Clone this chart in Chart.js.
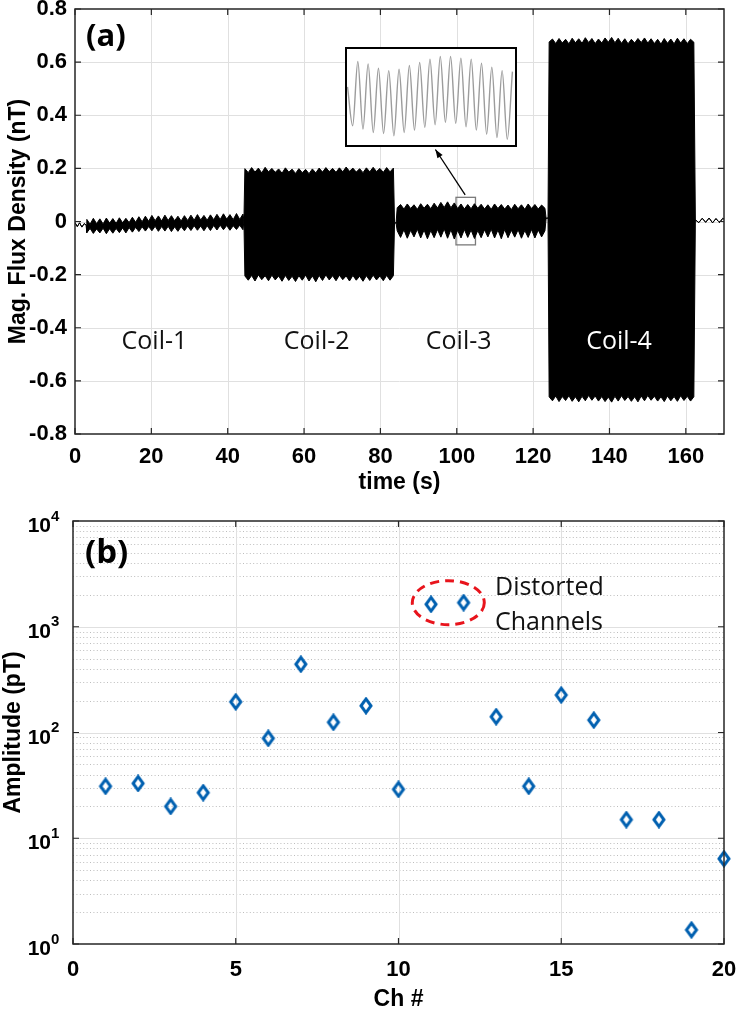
<!DOCTYPE html>
<html>
<head>
<meta charset="utf-8">
<script src="https://cdn.jsdelivr.net/npm/chart.js@4.4.1/dist/chart.umd.min.js"></script>
<style>
  body { margin: 0; background: #fff; }
  #wrap { position: relative; width: 737px; height: 1009px; overflow: hidden; }
  #chartA { position: absolute; left: 0; top: 0; }
  #chartB { position: absolute; left: 0; top: 500px; }
  #insetBox { position: absolute; left: 345px; top: 47px; width: 172px; height: 100px;
              border: 2px solid #000; box-sizing: border-box; background: #fff; }
  #inset { position: absolute; left: 0; top: 0; }
</style>
</head>
<body>
<div id="wrap">
  <canvas id="chartA" width="737" height="500"></canvas>
  <canvas id="chartB" width="737" height="509"></canvas>
  <div id="insetBox"><canvas id="inset" width="168" height="96"></canvas></div>
</div>
<script>
// ---- panel (a): signal envelope ----
const xTicksA = [0, 20, 40, 60, 80, 100, 120, 140, 160];
const yTicksA = [-0.8, -0.6, -0.4, -0.2, 0, 0.2, 0.4, 0.6, 0.8];
const coilNames = ['Coil-1', 'Coil-2', 'Coil-3', 'Coil-4'];
const coilStart = [3.1, 44.5, 84.4, 124.2];
const coilEnd = [44.0, 83.4, 123.1, 162.1];

const baseBefore = [[0, -0.004], [0.6, -0.019], [1.2, -0.005], [1.8, -0.021], [2.4, -0.008], [2.9, -0.013]];
const gap12 = [[44.25, 0.004]];
const gap23 = [[83.7, -0.004], [84.1, -0.006]];
const gap34 = [[123.4, 0.012], [123.9, 0.013]];
const baseAfter = [[162.5, 0.006], [163.4, -0.004], [164.3, 0.012], [165.2, -0.003], [166.1, 0.013],
  [167.0, -0.005], [167.9, 0.011], [168.8, -0.004], [169.7, 0.012], [170, 0.009]];

const coil1Top = [0.008, -0.010, 0.012, -0.008, 0.010, -0.009, 0.013, -0.006, 0.011, -0.007, 0.014, -0.005,
  0.012, -0.004, 0.016, -0.003, 0.018, -0.001, 0.020, 0.001, 0.023, 0.003, 0.021, 0.002, 0.024, 0.004,
  0.022, 0.003, 0.020, 0.002, 0.022, 0.004, 0.024, 0.005, 0.026, 0.006, 0.023, 0.005, 0.025, 0.007,
  0.027, 0.008, 0.029, 0.009, 0.026, 0.007, 0.030, 0.008, 0.028];
const coil1Bot = [-0.042, -0.026, -0.045, -0.028, -0.043, -0.025, -0.046, -0.027, -0.044, -0.026, -0.042, -0.024,
  -0.043, -0.023, -0.040, -0.022, -0.038, -0.020, -0.036, -0.019, -0.035, -0.018, -0.037, -0.019, -0.036, -0.018,
  -0.038, -0.020, -0.037, -0.019, -0.035, -0.017, -0.034, -0.016, -0.033, -0.017, -0.035, -0.016, -0.034, -0.015,
  -0.032, -0.014, -0.031, -0.015, -0.033, -0.016, -0.030, -0.014, -0.031];
const coil2Top = [0.199, 0.184, 0.203, 0.186, 0.201, 0.183, 0.204, 0.187, 0.200, 0.185, 0.198, 0.182, 0.202,
  0.186, 0.197, 0.181, 0.199, 0.184, 0.196, 0.180, 0.198, 0.183, 0.201, 0.186, 0.203, 0.188, 0.200, 0.185,
  0.202, 0.187, 0.205, 0.189, 0.201, 0.186, 0.199, 0.184, 0.202, 0.187, 0.204, 0.188, 0.200, 0.185, 0.203,
  0.187, 0.201];
const coil2Bot = [-0.205, -0.221, -0.203, -0.224, -0.201, -0.219, -0.204, -0.223, -0.202, -0.220, -0.205, -0.225,
  -0.203, -0.222, -0.206, -0.226, -0.204, -0.221, -0.202, -0.224, -0.205, -0.227, -0.203, -0.222, -0.201, -0.220,
  -0.204, -0.223, -0.202, -0.219, -0.205, -0.224, -0.203, -0.221, -0.206, -0.225, -0.204, -0.222, -0.202, -0.220,
  -0.205, -0.223, -0.203, -0.221, -0.204];
const coil3Top = [0.052, 0.064, 0.047, 0.066, 0.049, 0.063, 0.046, 0.067, 0.050, 0.065, 0.048, 0.069, 0.051,
  0.072, 0.053, 0.074, 0.052, 0.070, 0.049, 0.066, 0.047, 0.064, 0.048, 0.067, 0.050, 0.065, 0.047, 0.063,
  0.046, 0.066, 0.049, 0.064, 0.047, 0.062, 0.045, 0.065, 0.048, 0.063, 0.046, 0.066, 0.049, 0.064, 0.047,
  0.062, 0.050];
const coil3Bot = [-0.035, -0.060, -0.031, -0.063, -0.033, -0.058, -0.029, -0.062, -0.032, -0.065, -0.034, -0.061,
  -0.030, -0.059, -0.028, -0.063, -0.031, -0.066, -0.033, -0.062, -0.030, -0.060, -0.032, -0.064, -0.034, -0.061,
  -0.031, -0.058, -0.029, -0.062, -0.032, -0.065, -0.030, -0.061, -0.033, -0.059, -0.031, -0.063, -0.034, -0.060,
  -0.030, -0.062, -0.032, -0.058, -0.035];
const coil4Top = [0.676, 0.687, 0.670, 0.689, 0.672, 0.686, 0.669, 0.690, 0.673, 0.688, 0.671, 0.692, 0.674,
  0.689, 0.670, 0.687, 0.672, 0.691, 0.675, 0.693, 0.673, 0.690, 0.671, 0.688, 0.669, 0.686, 0.672, 0.689,
  0.674, 0.691, 0.672, 0.688, 0.670, 0.686, 0.668, 0.689, 0.671, 0.687, 0.669, 0.690, 0.672, 0.688, 0.670,
  0.686, 0.675];
const coil4Bot = [-0.660, -0.675, -0.657, -0.678, -0.659, -0.674, -0.656, -0.677, -0.660, -0.679, -0.658, -0.675,
  -0.655, -0.673, -0.657, -0.676, -0.659, -0.678, -0.661, -0.680, -0.658, -0.676, -0.656, -0.674, -0.659, -0.677,
  -0.660, -0.679, -0.657, -0.675, -0.655, -0.673, -0.658, -0.676, -0.660, -0.678, -0.657, -0.675, -0.659, -0.677,
  -0.656, -0.674, -0.658, -0.676, -0.660];

// zoomed-in trace shown in the inset (alternating crests / troughs)
const insetWave = [0.30, -0.85, 1.05, -0.95, 0.98, -1.05, 0.85, -1.08, 0.78, -1.15, 0.82, -1.05, 0.93, -0.98,
  1.02, -0.90, 1.12, -0.82, 1.20, -0.75, 1.20, -0.78, 1.15, -0.88, 1.12, -0.98, 1.00, -1.10, 0.88, -1.20,
  0.78, -1.25, 0.75];

// ---- panel (b): amplitude per channel ----
const channels = [1, 2, 3, 4, 5, 6, 7, 8, 9, 10, 11, 12, 13, 14, 15, 16, 17, 18, 19, 20];
const amplitudes = [31, 33, 20, 27, 195, 88, 442, 125, 179, 29, 1630, 1690, 141, 31, 226, 131, 15, 15, 1.36, 6.4];
const xTicksB = [0, 5, 10, 15, 20];
const yTicksB = [1, 10, 100, 1000, 10000];

const TICK_FONT = "'Liberation Sans', Arial, sans-serif";
const TEXT_FONT = "'Open Sans', 'Noto Sans', sans-serif";
const GRID = '#e0e0e0';
const AXIS = '#262626';
const BLUE = 'rgb(0, 96, 176)';

const pairs = (arr) => arr.map(([x, y]) => ({ x, y }));
function envelope(start, end, vals) {
  const step = (end - start) / (vals.length - 1);
  return vals.map((v, i) => ({ x: start + i * step, y: v }));
}
const tops = [coil1Top, coil2Top, coil3Top, coil4Top];
const bots = [coil1Bot, coil2Bot, coil3Bot, coil4Bot];
const gaps = [gap12, gap23, gap34, baseAfter];
function trace(edges) {
  let out = pairs(baseBefore);
  edges.forEach((vals, i) => {
    out = out.concat(envelope(coilStart[i], coilEnd[i], vals), pairs(gaps[i]));
  });
  return out;
}
const upper = trace(tops);
const lower = trace(bots);

function fixedBox(w, h) {
  return (s) => {
    if (w != null) s.width = w;
    if (h != null) s.height = h;
    s.paddingTop = 0; s.paddingBottom = 0; s.paddingLeft = 0; s.paddingRight = 0;
  };
}

function drawFrame(ctx, a) {
  ctx.strokeStyle = AXIS;
  ctx.lineWidth = 1.5;
  ctx.strokeRect(a.left, a.top, a.right - a.left, a.bottom - a.top);
}

function arrow(ctx, x0, y0, x1, y1) {
  const ang = Math.atan2(y1 - y0, x1 - x0);
  ctx.beginPath(); ctx.moveTo(x0, y0); ctx.lineTo(x1, y1); ctx.stroke();
  ctx.beginPath();
  ctx.moveTo(x1, y1);
  ctx.lineTo(x1 - 9 * Math.cos(ang - 0.35), y1 - 9 * Math.sin(ang - 0.35));
  ctx.lineTo(x1 - 9 * Math.cos(ang + 0.35), y1 - 9 * Math.sin(ang + 0.35));
  ctx.closePath(); ctx.fill();
}

const frameA = {
  id: 'frameA',
  beforeDatasetsDraw(chart) {
    const { ctx, chartArea: a, scales: { x, y } } = chart;
    ctx.save();
    ctx.strokeStyle = GRID; ctx.lineWidth = 1;
    ctx.beginPath();
    xTicksA.forEach(t => {
      if (t <= 0) return;
      const px = Math.round(x.getPixelForValue(t)) + 0.5;
      ctx.moveTo(px, a.top); ctx.lineTo(px, a.bottom);
    });
    yTicksA.forEach(t => {
      if (Math.abs(t) > 0.75) return;
      const py = Math.round(y.getPixelForValue(t)) + 0.5;
      ctx.moveTo(a.left, py); ctx.lineTo(a.right, py);
    });
    ctx.stroke();
    // small zoom window on the Coil-3 trace
    const rx0 = x.getPixelForValue(99.8), rx1 = x.getPixelForValue(104.9);
    const ry0 = y.getPixelForValue(0.091), ry1 = y.getPixelForValue(-0.088);
    ctx.strokeStyle = '#7a7a7a'; ctx.lineWidth = 1.3;
    ctx.strokeRect(rx0, ry0, rx1 - rx0, ry1 - ry0);
    ctx.restore();
  },
  afterDatasetsDraw(chart) {
    const { ctx, chartArea: a, scales: { x, y } } = chart;
    ctx.save();
    drawFrame(ctx, a);
    ctx.beginPath();
    ctx.lineWidth = 1.2;
    xTicksA.forEach(t => {
      const px = x.getPixelForValue(t);
      ctx.moveTo(px, a.bottom); ctx.lineTo(px, a.bottom - 6);
      ctx.moveTo(px, a.top); ctx.lineTo(px, a.top + 6);
    });
    yTicksA.forEach(t => {
      const py = y.getPixelForValue(t);
      ctx.moveTo(a.left, py); ctx.lineTo(a.left + 6, py);
      ctx.moveTo(a.right, py); ctx.lineTo(a.right - 6, py);
    });
    ctx.stroke();

    // arrow from zoom window to inset
    ctx.strokeStyle = '#000'; ctx.fillStyle = '#000'; ctx.lineWidth = 1.3;
    arrow(ctx, x.getPixelForValue(102.2), y.getPixelForValue(0.100),
      x.getPixelForValue(94.4), y.getPixelForValue(0.271));

    // coil labels
    const coilMid = [20.8, 63.3, 100.5, 142.5];
    ctx.font = '25px ' + TEXT_FONT;
    ctx.textAlign = 'center'; ctx.textBaseline = 'alphabetic';
    coilNames.forEach((n, i) => {
      ctx.fillStyle = i === 3 ? '#fff' : '#111';
      ctx.fillText(n, x.getPixelForValue(coilMid[i]), y.getPixelForValue(-0.48));
    });

    // panel tag
    ctx.fillStyle = '#000';
    ctx.textAlign = 'left';
    ctx.font = 'bold 31px ' + TEXT_FONT;
    ctx.fillText('(a)', a.left + 11, a.top + 37);

    // axis titles
    ctx.font = 'bold 23px ' + TICK_FONT;
    ctx.textAlign = 'center';
    ctx.fillText('time (s)', (a.left + a.right) / 2, 489);
    ctx.translate(25, (a.top + a.bottom) / 2);
    ctx.rotate(-Math.PI / 2);
    ctx.fillText('Mag. Flux Density (nT)', 0, 0);
    ctx.restore();
  }
};

new Chart(document.getElementById('chartA'), {
  type: 'line',
  data: {
    datasets: [
      { data: upper, borderColor: '#000', borderWidth: 1, pointRadius: 0, tension: 0,
        fill: '+1', backgroundColor: '#000' },
      { data: lower, borderColor: '#000', borderWidth: 1, pointRadius: 0, tension: 0, fill: false }
    ]
  },
  options: {
    responsive: false,
    animation: false,
    events: [],
    layout: { padding: { top: 9, right: 13, bottom: 0, left: 0 } },
    plugins: { legend: { display: false }, tooltip: { enabled: false } },
    scales: {
      x: {
        type: 'linear', min: 0, max: 170,
        grid: { display: false, drawTicks: false }, border: { display: false },
        ticks: { stepSize: 20, includeBounds: false, maxRotation: 0, autoSkip: false, padding: 10,
          color: '#000', font: { family: TICK_FONT, size: 22, weight: 'bold' } },
        afterFit: fixedBox(null, 66)
      },
      y: {
        min: -0.8, max: 0.8,
        grid: { display: false, drawTicks: false }, border: { display: false },
        ticks: { stepSize: 0.2, padding: 8, color: '#000', autoSkip: false,
          font: { family: TICK_FONT, size: 22, weight: 'bold' },
          callback: v => Math.abs(v) < 1e-9 ? '0' : v.toFixed(1) },
        afterFit: fixedBox(75, null)
      }
    }
  },
  plugins: [frameA]
});

// inset: zoomed trace
new Chart(document.getElementById('inset'), {
  type: 'line',
  data: {
    datasets: [{
      data: insetWave.map((v, i) => ({ x: i, y: v })),
      borderColor: '#9c9c9c', borderWidth: 1.4, pointRadius: 0,
      cubicInterpolationMode: 'monotone', fill: false
    }]
  },
  options: {
    responsive: false, animation: false, events: [],
    layout: { padding: 0 },
    plugins: { legend: { display: false }, tooltip: { enabled: false } },
    scales: {
      x: { type: 'linear', display: false, min: -0.1, max: 32.5 },
      y: { display: false, min: -1.42, max: 1.42 }
    }
  }
});

// ---- panel (b) ----
const diamond = document.createElement('canvas');
diamond.width = 16; diamond.height = 18;
(() => {
  const dc = diamond.getContext('2d');
  dc.strokeStyle = BLUE; dc.lineWidth = 3; dc.lineJoin = 'miter';
  dc.beginPath();
  dc.moveTo(8, 2.2); dc.lineTo(13, 9); dc.lineTo(8, 15.8); dc.lineTo(3, 9);
  dc.closePath(); dc.stroke();
})();

const frameB = {
  id: 'frameB',
  beforeDatasetsDraw(chart) {
    const { ctx, chartArea: a, scales: { x, y } } = chart;
    ctx.save();
    // minor dotted grid
    ctx.strokeStyle = '#bdbdbd'; ctx.lineWidth = 1; ctx.setLineDash([1, 2.4]);
    ctx.beginPath();
    yTicksB.slice(0, -1).forEach(d => {
      for (let m = 2; m <= 9; m++) {
        const py = Math.round(y.getPixelForValue(d * m)) + 0.5;
        ctx.moveTo(a.left, py); ctx.lineTo(a.right, py);
      }
    });
    ctx.stroke();
    ctx.setLineDash([]);
    ctx.strokeStyle = GRID;
    ctx.beginPath();
    yTicksB.slice(1, -1).forEach(d => {
      const py = Math.round(y.getPixelForValue(d)) + 0.5;
      ctx.moveTo(a.left, py); ctx.lineTo(a.right, py);
    });
    xTicksB.slice(1, -1).forEach(t => {
      const px = Math.round(x.getPixelForValue(t)) + 0.5;
      ctx.moveTo(px, a.top); ctx.lineTo(px, a.bottom);
    });
    ctx.stroke();
    ctx.restore();
  },
  afterDatasetsDraw(chart) {
    const { ctx, chartArea: a, scales: { x, y } } = chart;
    ctx.save();
    drawFrame(ctx, a);
    ctx.beginPath();
    ctx.lineWidth = 1.2;
    xTicksB.forEach(t => {
      const px = x.getPixelForValue(t);
      ctx.moveTo(px, a.bottom); ctx.lineTo(px, a.bottom - 6);
      ctx.moveTo(px, a.top); ctx.lineTo(px, a.top + 6);
    });
    yTicksB.forEach(d => {
      const py = y.getPixelForValue(d);
      ctx.moveTo(a.left, py); ctx.lineTo(a.left + 6, py);
      ctx.moveTo(a.right, py); ctx.lineTo(a.right - 6, py);
    });
    ctx.stroke();

    // y tick labels 10^n
    ctx.fillStyle = '#000';
    yTicksB.forEach(d => {
      const py = y.getPixelForValue(d);
      ctx.font = 'bold 21px ' + TICK_FONT;
      ctx.textAlign = 'right'; ctx.textBaseline = 'alphabetic';
      ctx.fillText('10', 51, py + 11);
      ctx.font = 'bold 15px ' + TICK_FONT;
      ctx.textAlign = 'left';
      ctx.fillText(String(Math.round(Math.log10(d))), 51, py - 0.5);
    });

    // highlighted channels
    const cx = x.getPixelForValue(11.53), cy = y.getPixelForValue(1690);
    ctx.strokeStyle = '#e8141c'; ctx.lineWidth = 3; ctx.setLineDash([9, 6]);
    ctx.beginPath(); ctx.ellipse(cx, cy, 36, 22, 0, 0, Math.PI * 2); ctx.stroke();
    ctx.setLineDash([]);
    ctx.font = '25px ' + TEXT_FONT;
    ctx.fillStyle = '#111';
    ctx.fillText('Distorted', 495, 95);
    ctx.fillText('Channels', 495, 130);

    // panel tag
    ctx.fillStyle = '#000';
    ctx.font = 'bold 33px ' + TEXT_FONT;
    ctx.fillText('(b)', a.left + 12, 63);

    // axis titles
    ctx.font = 'bold 23px ' + TICK_FONT;
    ctx.textAlign = 'center';
    ctx.fillText('Ch #', (a.left + a.right) / 2, 506);
    ctx.translate(20, (a.top + a.bottom) / 2);
    ctx.rotate(-Math.PI / 2);
    ctx.fillText('Amplitude (pT)', 0, 0);
    ctx.restore();
  }
};

new Chart(document.getElementById('chartB'), {
  type: 'scatter',
  data: {
    datasets: [{
      data: channels.map((c, i) => ({ x: c, y: amplitudes[i] })),
      pointStyle: diamond, pointRadius: 8, clip: false
    }]
  },
  options: {
    responsive: false,
    animation: false,
    events: [],
    layout: { padding: { top: 21, right: 13, bottom: 0, left: 0 } },
    plugins: { legend: { display: false }, tooltip: { enabled: false } },
    scales: {
      x: {
        type: 'linear', min: 0, max: 20,
        grid: { display: false, drawTicks: false }, border: { display: false },
        ticks: { stepSize: 5, maxRotation: 0, autoSkip: false, padding: 13, color: '#000',
          font: { family: TICK_FONT, size: 22, weight: 'bold' } },
        afterFit: fixedBox(null, 65)
      },
      y: {
        type: 'logarithmic', min: 1, max: 10000,
        grid: { display: false, drawTicks: false }, border: { display: false },
        ticks: { display: false },
        afterFit: fixedBox(73, null)
      }
    }
  },
  plugins: [frameB]
});
</script>
</body>
</html>
